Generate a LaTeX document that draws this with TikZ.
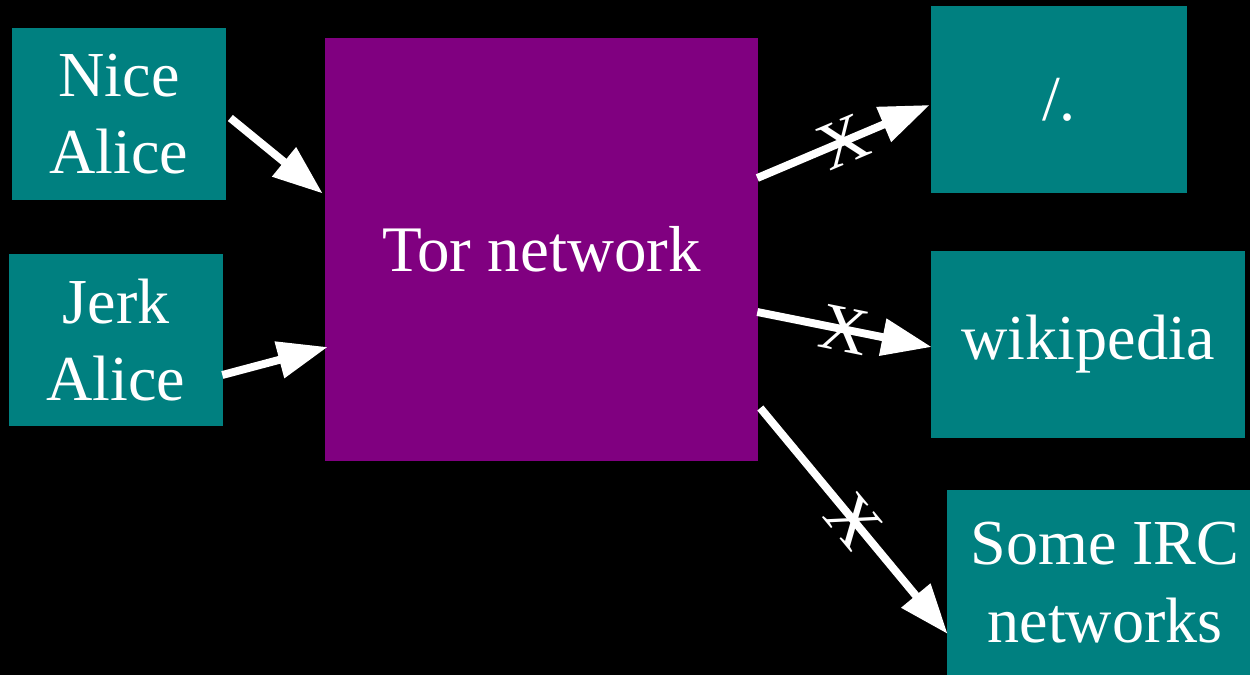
\documentclass[tikz,border=0pt]{standalone}
\usepackage{fontspec}
\setmainfont{Liberation Serif}
\usetikzlibrary{arrows.meta}
\definecolor{teal}{HTML}{008080}
\definecolor{torpurple}{HTML}{800080}
\tikzset{
  box/.style={fill=teal, text=white, inner sep=0pt, align=center,
    font=\fontsize{36.5}{44}\selectfont},
  torbox/.style={fill=torpurple, text=white, inner sep=0pt, align=center,
    font=\fontsize{37}{44}\selectfont},
  arr/.style={draw=white, line width=4.5pt,
    -{Triangle[length=1.0cm, width=0.72cm]}},
  xmark/.style={text=white, font=\fontsize{38}{40}\selectfont, inner sep=0pt, sloped, pos=0.5}
}
\begin{document}
\begin{tikzpicture}[x=0.02cm, y=-0.02cm]
\fill[black] (0,0) rectangle (1250,675);
\useasboundingbox (0,0) rectangle (1250,675);
\node[box, minimum width=4.28cm, minimum height=3.44cm] (nice) at (119,114) {Nice\\Alice};
\node[box, minimum width=4.28cm, minimum height=3.44cm] (jerk) at (116,340) {Jerk\\Alice};
\node[torbox, minimum width=8.66cm, minimum height=8.46cm] (tor) at (541.5,249.5) {Tor network};
\node[box, minimum width=5.12cm, minimum height=3.74cm] (slash) at (1059,99.5) {/.};
\node[box, minimum width=6.28cm, minimum height=3.74cm] (wiki) at (1088,344.5) {wikipedia};
\node[box, minimum width=6.32cm, minimum height=3.70cm] (irc) at (1105,582.5) {Some IRC\\networks};

\draw[arr] ([shift={(4,4)}]nice.east) -- ([shift={(-2,-56)}]tor.west);
\draw[arr] ([shift={(-1,35)}]jerk.east) -- ([shift={(3,97.5)}]tor.west);
\draw[arr] ([shift={(-1,-71.5)}]tor.east) -- node[xmark] (x1) {X} ([shift={(-1,5.5)}]slash.west);
\draw[arr] ([shift={(-1,62.5)}]tor.east) -- node[xmark] (x2) {X} ([shift={(1,2.5)}]wiki.west);
\draw[arr] ([shift={(2,158.5)}]tor.east) -- node[xmark] (x3) {X} ([shift={(1,51.5)}]irc.west);
\end{tikzpicture}
\end{document}
